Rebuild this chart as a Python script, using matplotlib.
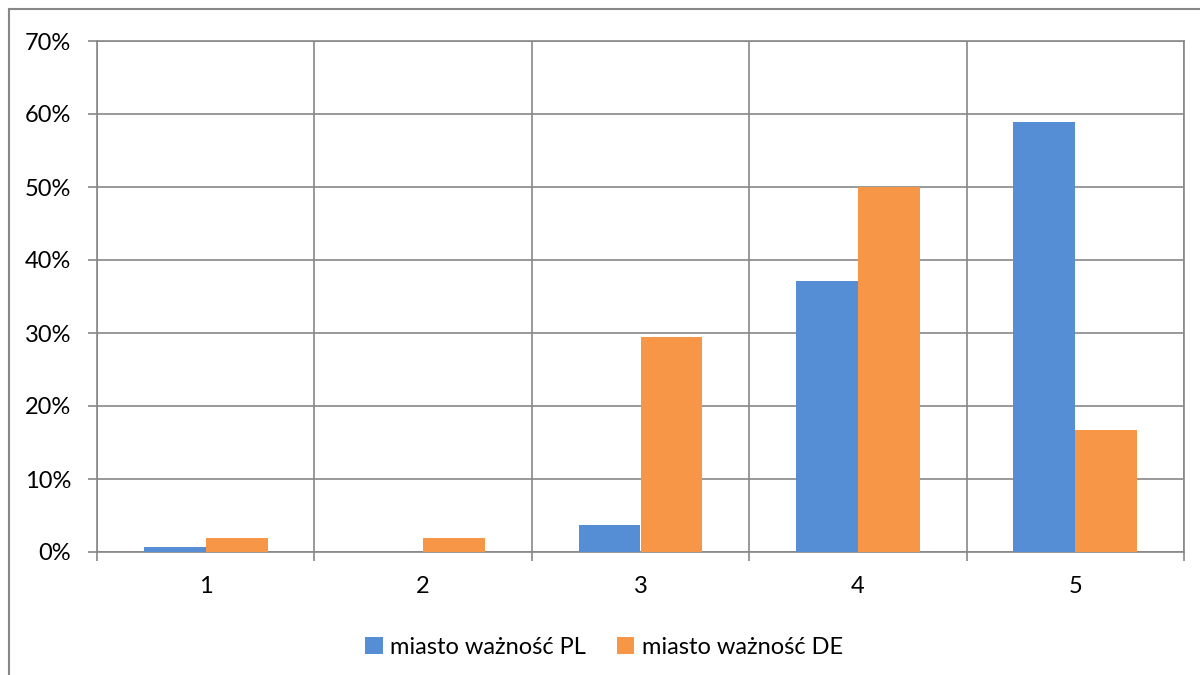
import numpy as np
import matplotlib.pyplot as plt
from matplotlib.lines import Line2D
from matplotlib.ticker import PercentFormatter

plt.rcParams['font.family'] = ['Lato', 'DejaVu Sans']

categories = ['1', '2', '3', '4', '5']
pl_values = [0.7, 0.0, 3.7, 37.1, 58.9]
de_values = [1.9, 1.9, 29.5, 50.0, 16.7]
series_names = ['miasto ważność PL', 'miasto ważność DE']

blue = '#558ED5'
orange = '#F79646'
grid_color = '#878787'

fig = plt.figure(figsize=(12, 6.75), dpi=100)
ax = fig.add_axes([97 / 1200, 1 - 552 / 675, 1087 / 1200, 511 / 675])

x = np.arange(len(categories))
w = 0.285
ax.bar(x - w / 2, pl_values, w, color=blue, label=series_names[0], zorder=3)
ax.bar(x + w / 2, de_values, w, color=orange, label=series_names[1], zorder=3)

ax.set_xlim(-0.5, len(categories) - 0.5)
ax.set_ylim(0, 70)
ax.set_yticks(np.arange(0, 71, 10))
ax.yaxis.set_major_formatter(PercentFormatter(decimals=0))

# category labels in the middle, ticks and gridlines on the boundaries
ax.set_xticks(x)
ax.set_xticklabels(categories)
ax.set_xticks(np.arange(-0.5, len(categories)), minor=True)
ax.tick_params(axis='x', which='major', length=0, pad=17, labelsize=17)
ax.tick_params(axis='x', which='minor', length=6.5, width=1.2, color=grid_color)
ax.tick_params(axis='y', length=6.5, width=1.2, color=grid_color, pad=12, labelsize=17)

ax.grid(True, axis='y', which='major', color=grid_color, linewidth=1.2, zorder=0)
ax.grid(True, axis='x', which='minor', color=grid_color, linewidth=1.2, zorder=0)
for s in ['top', 'right', 'left', 'bottom']:
    ax.spines[s].set_color(grid_color)
    ax.spines[s].set_linewidth(1.2)

ax.legend(loc='center', bbox_to_anchor=(604 / 1200, 1 - 647 / 675),
          bbox_transform=fig.transFigure, ncol=2, frameon=False,
          fontsize=17, handlelength=0.75, handleheight=0.75,
          handletextpad=0.3, columnspacing=1.3)

# outer chart frame (partly cut off)
fig.add_artist(Line2D([9 / 1200, 9 / 1200], [0, 1 - 9 / 675],
                      transform=fig.transFigure, color=grid_color, lw=1.5))
fig.add_artist(Line2D([9 / 1200, 1], [1 - 9 / 675, 1 - 9 / 675],
                      transform=fig.transFigure, color=grid_color, lw=1.5))

fig.savefig('out.png', dpi=100)
